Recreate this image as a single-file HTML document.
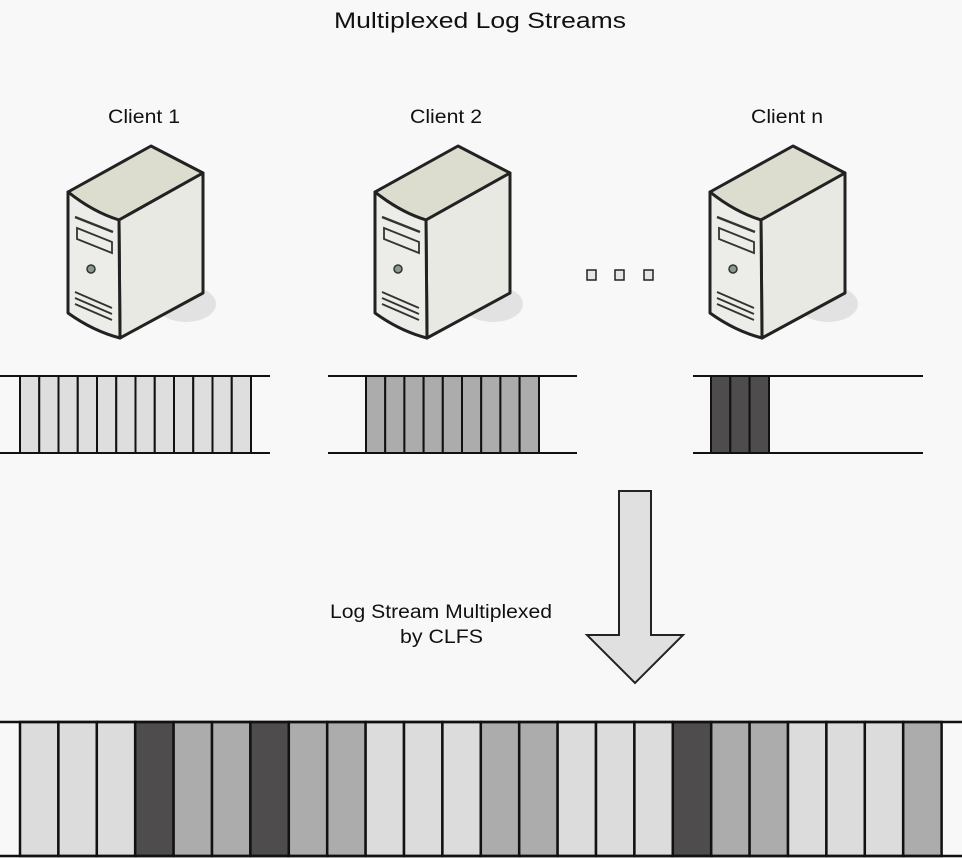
<!DOCTYPE html>
<html><head><meta charset="utf-8">
<style>
html,body{margin:0;padding:0;background:#f8f8f8;}
svg{display:block;}
text{font-family:"Liberation Sans",Arial,sans-serif;fill:#111;}
</style></head>
<body>
<svg width="962" height="858" viewBox="0 0 962 858" xmlns="http://www.w3.org/2000/svg">
<defs>
<g id="srv">
  <ellipse cx="118" cy="158" rx="30" ry="18" fill="#e2e2e2"/>
  <path d="M83,0 L135,27 L51,74 Q25,66 0,46 Z" fill="#dcdccf" stroke="#222" stroke-width="3" stroke-linejoin="round"/>
  <path d="M51,74 L135,27 L135,147 L52,192 Z" fill="#e9e9e4" stroke="#222" stroke-width="3" stroke-linejoin="round"/>
  <path d="M0,46 Q25,66 51,74 L52,192 Q25,185 0,167 Z" fill="#ecece8" stroke="#222" stroke-width="3" stroke-linejoin="round"/>
  <path d="M7,71 L45,86" stroke="#333" stroke-width="2.5"/>
  <path d="M9,82 L44,96 L44,107 L9,93 Z" fill="none" stroke="#333" stroke-width="1.8"/>
  <circle cx="23" cy="123" r="4" fill="#8a9a8a" stroke="#333" stroke-width="1.5"/>
  <path d="M7,146 L44,162 M7,152 L44,168 M7,158 L44,174" stroke="#333" stroke-width="1.8"/>
</g>
</defs>

<text x="334" y="28" font-size="22" textLength="292" lengthAdjust="spacingAndGlyphs">Multiplexed Log Streams</text>
<text x="108" y="123" font-size="19" textLength="72" lengthAdjust="spacingAndGlyphs">Client 1</text>
<text x="410" y="123" font-size="19" textLength="72" lengthAdjust="spacingAndGlyphs">Client 2</text>
<text x="751" y="123" font-size="19" textLength="72" lengthAdjust="spacingAndGlyphs">Client n</text>

<use href="#srv" x="68" y="146"/>
<use href="#srv" x="375" y="146"/>
<use href="#srv" x="710" y="146"/>

<g fill="#e6e6e6" stroke="#222" stroke-width="1.5">
  <rect x="587" y="270" width="9" height="10"/>
  <rect x="615" y="270" width="9" height="10"/>
  <rect x="644" y="270" width="9" height="10"/>
</g>

<g stroke="#111" stroke-width="2" fill="#dedede">
  <rect x="20" y="376" width="19.25" height="77"/><rect x="39.25" y="376" width="19.25" height="77"/>
  <rect x="58.5" y="376" width="19.25" height="77"/><rect x="77.75" y="376" width="19.25" height="77"/>
  <rect x="97" y="376" width="19.25" height="77"/><rect x="116.25" y="376" width="19.25" height="77"/>
  <rect x="135.5" y="376" width="19.25" height="77"/><rect x="154.75" y="376" width="19.25" height="77"/>
  <rect x="174" y="376" width="19.25" height="77"/><rect x="193.25" y="376" width="19.25" height="77"/>
  <rect x="212.5" y="376" width="19.25" height="77"/><rect x="231.75" y="376" width="19.25" height="77"/>
</g>
<g stroke="#111" stroke-width="2" fill="#acacac">
  <rect x="366" y="376" width="19.2" height="77"/><rect x="385.2" y="376" width="19.2" height="77"/>
  <rect x="404.4" y="376" width="19.2" height="77"/><rect x="423.6" y="376" width="19.2" height="77"/>
  <rect x="442.8" y="376" width="19.2" height="77"/><rect x="462" y="376" width="19.2" height="77"/>
  <rect x="481.2" y="376" width="19.2" height="77"/><rect x="500.4" y="376" width="19.2" height="77"/>
  <rect x="519.6" y="376" width="19.4" height="77"/>
</g>
<g stroke="#111" stroke-width="2" fill="#4e4c4c">
  <rect x="711" y="376" width="19.3" height="77"/><rect x="730.3" y="376" width="19.3" height="77"/>
  <rect x="749.6" y="376" width="19.4" height="77"/>
</g>
<g stroke="#111" stroke-width="2">
  <line x1="0" y1="376" x2="270" y2="376"/><line x1="0" y1="453" x2="270" y2="453"/>
  <line x1="328" y1="376" x2="577" y2="376"/><line x1="328" y1="453" x2="577" y2="453"/>
  <line x1="693" y1="376" x2="923" y2="376"/><line x1="693" y1="453" x2="923" y2="453"/>
</g>

<path d="M619,491 L651,491 L651,635 L683,635 L635,683 L587,635 L619,635 Z" fill="#e0e0e0" stroke="#222" stroke-width="2" stroke-linejoin="miter"/>

<text x="330" y="618" font-size="19" textLength="222" lengthAdjust="spacingAndGlyphs">Log Stream Multiplexed</text>
<text x="400" y="643" font-size="19" textLength="83" lengthAdjust="spacingAndGlyphs">by CLFS</text>

<g stroke="#111" stroke-width="2.5">
<rect x="20" y="722" width="38.4" height="134" fill="#dcdcdc"/>
<rect x="58.4" y="722" width="38.4" height="134" fill="#dcdcdc"/>
<rect x="96.8" y="722" width="38.4" height="134" fill="#dcdcdc"/>
<rect x="135.2" y="722" width="38.4" height="134" fill="#4e4c4c"/>
<rect x="173.6" y="722" width="38.4" height="134" fill="#acacac"/>
<rect x="212" y="722" width="38.4" height="134" fill="#acacac"/>
<rect x="250.4" y="722" width="38.4" height="134" fill="#4e4c4c"/>
<rect x="288.8" y="722" width="38.4" height="134" fill="#acacac"/>
<rect x="327.2" y="722" width="38.4" height="134" fill="#acacac"/>
<rect x="365.6" y="722" width="38.4" height="134" fill="#dcdcdc"/>
<rect x="404" y="722" width="38.4" height="134" fill="#dcdcdc"/>
<rect x="442.4" y="722" width="38.4" height="134" fill="#dcdcdc"/>
<rect x="480.8" y="722" width="38.4" height="134" fill="#acacac"/>
<rect x="519.2" y="722" width="38.4" height="134" fill="#acacac"/>
<rect x="557.6" y="722" width="38.4" height="134" fill="#dcdcdc"/>
<rect x="596" y="722" width="38.4" height="134" fill="#dcdcdc"/>
<rect x="634.4" y="722" width="38.4" height="134" fill="#dcdcdc"/>
<rect x="672.8" y="722" width="38.4" height="134" fill="#4e4c4c"/>
<rect x="711.2" y="722" width="38.4" height="134" fill="#acacac"/>
<rect x="749.6" y="722" width="38.4" height="134" fill="#acacac"/>
<rect x="788" y="722" width="38.4" height="134" fill="#dcdcdc"/>
<rect x="826.4" y="722" width="38.4" height="134" fill="#dcdcdc"/>
<rect x="864.8" y="722" width="38.4" height="134" fill="#dcdcdc"/>
<rect x="903.2" y="722" width="38.4" height="134" fill="#acacac"/>
</g>
<line x1="0" y1="722" x2="962" y2="722" stroke="#111" stroke-width="2.5"/>
<line x1="0" y1="856" x2="962" y2="856" stroke="#111" stroke-width="2.5"/>
</svg>
</body></html>
